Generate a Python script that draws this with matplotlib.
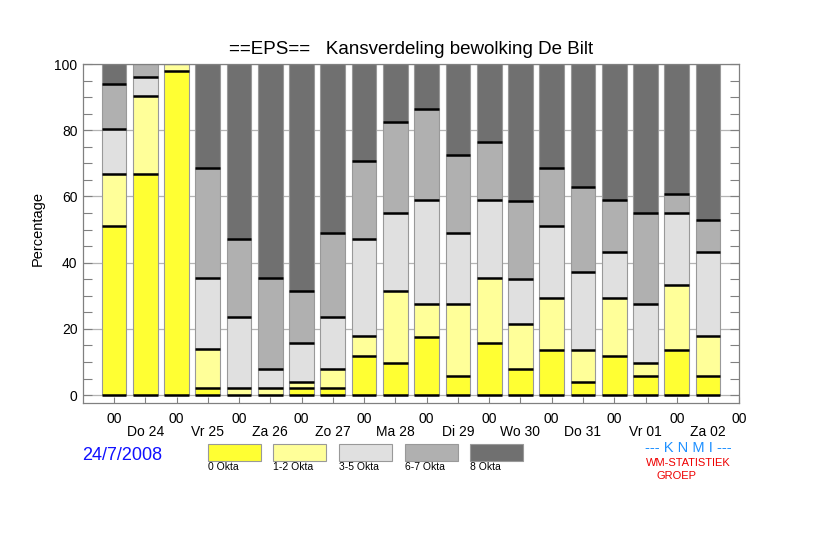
import numpy as np
import matplotlib
matplotlib.use("Agg")
import matplotlib.pyplot as plt
from matplotlib.patches import Rectangle

plt.rcParams["font.family"] = ["Liberation Sans", "DejaVu Sans"]

KLASSEN = ["0 Okta", "1-2 Okta", "3-5 Okta", "6-7 Okta", "8 Okta"]
KLEUREN = ["#ffff33", "#ffff99", "#e0e0e0", "#b0b0b0", "#707070"]

# kans (%) per klasse, elke 12 uur vanaf do 24 00 UTC
okta_0 = [51.0, 66.7, 98.0, 2.0, 0.0, 0.0, 2.0, 2.0, 11.8, 9.8,
          17.6, 5.9, 15.7, 7.8, 13.7, 3.9, 11.8, 5.9, 13.7, 5.9]
okta_12 = [15.7, 23.5, 2.0, 11.8, 2.0, 2.0, 2.0, 5.9, 5.9, 21.6,
           9.8, 21.6, 19.6, 13.7, 15.7, 9.8, 17.6, 3.9, 19.6, 11.8]
okta_35 = [13.7, 5.9, 0.0, 21.6, 21.6, 5.9, 11.8, 15.7, 29.4, 23.5,
           31.4, 21.6, 23.5, 13.7, 21.6, 23.5, 13.7, 17.6, 21.6, 25.5]
okta_67 = [13.7, 3.9, 0.0, 33.3, 23.5, 27.5, 15.7, 25.5, 23.5, 27.5,
           27.5, 23.5, 17.6, 23.5, 17.6, 25.5, 15.7, 27.5, 5.9, 9.8]
okta_8 = [5.9, 0.0, 0.0, 31.4, 52.9, 64.7, 68.6, 51.0, 29.4, 17.6,
          13.7, 27.5, 23.5, 41.2, 31.4, 37.3, 41.2, 45.1, 39.2, 47.1]

DAGEN = ["Do 24", "Vr 25", "Za 26", "Zo 27", "Ma 28",
         "Di 29", "Wo 30", "Do 31", "Vr 01", "Za 02"]

GRIJS = "#808080"

reeksen = [okta_0, okta_12, okta_35, okta_67, okta_8]
n = len(okta_0)
x = np.arange(n)
breedte = 0.79

fig = plt.figure(figsize=(8.22, 5.38), dpi=100)
ax = fig.add_axes([82.7 / 822, 1 - 403 / 538, (739.3 - 82.7) / 822, (403 - 64) / 538])

bodem = np.zeros(n)
for waarden, kleur in zip(reeksen, KLEUREN):
    w = np.array(waarden)
    ax.bar(x, w, breedte, bottom=bodem, color=kleur, edgecolor="#999999",
           linewidth=0.8, zorder=2)
    # zwarte streep onder elk niet-leeg segment
    aan = w > 0
    ax.hlines(bodem[aan], x[aan] - breedte / 2, x[aan] + breedte / 2,
              color="black", linewidth=1.8, zorder=3)
    bodem = bodem + w

ax.set_xlim(-1, 20)
ax.set_ylim(-2.4, 100)

ax.set_yticks(range(0, 101, 20))
ax.set_yticks(range(0, 101, 5), minor=True)
ax.grid(axis="y", which="major", color="#b4b4b4", linewidth=0.9, zorder=0)
ax.set_axisbelow(True)

ax.set_xticks(range(0, 21, 2), ["00"] * 11)
ax.set_xticks(range(1, 20, 2), DAGEN, minor=True)

ax.tick_params(axis="y", which="both", direction="in", length=6.5, width=0.8,
               color=GRIJS, left=True, right=True, labelsize=10, pad=3.8)
ax.tick_params(axis="x", which="both", direction="in", length=4.3, width=0.8,
               color=GRIJS, labelsize=10)
ax.tick_params(axis="x", which="major", pad=6.5)
ax.tick_params(axis="x", which="minor", pad=15.5)

for s in ax.spines.values():
    s.set_color(GRIJS)
    s.set_linewidth(0.9)

ax.set_ylabel("Percentage", fontsize=10.5)
ax.yaxis.set_label_coords((45 - 82.7) / 657, (403 - 229) / 339)

fig.text(411 / 822, 1 - 50 / 538, "==EPS==   Kansverdeling bewolking De Bilt",
         ha="center", va="center", fontsize=13.5)

fig.text(122 / 822, 1 - 455 / 538, "24/7/2008", ha="center", va="center",
         fontsize=13, color="#1010ff")

# legenda
for i, (naam, kleur) in enumerate(zip(KLASSEN, KLEUREN)):
    x0 = 207.5 + 65.7 * i
    fig.patches.append(Rectangle((x0 / 822, 1 - 461 / 538), 53 / 822, 17 / 538,
                                 transform=fig.transFigure, facecolor=kleur,
                                 edgecolor="#999999", linewidth=0.8))
    fig.text(x0 / 822, 1 - 467.5 / 538, naam, ha="left", va="center", fontsize=7.5)

fig.text(688 / 822, 1 - 447.5 / 538, "--- K N M I ---", ha="center", va="center",
         fontsize=10.5, color="#1e90ff")
fig.text(688 / 822, 1 - 463.5 / 538, "WM-STATISTIEK", ha="center", va="center",
         fontsize=8, color="#ee0000")
fig.text(676 / 822, 1 - 476 / 538, "GROEP", ha="center", va="center",
         fontsize=8, color="#ee0000")

fig.savefig("out.png", dpi=100, facecolor="white")
